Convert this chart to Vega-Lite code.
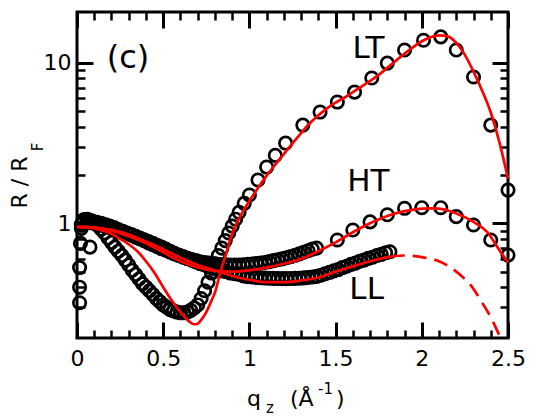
{
"$schema":"https://vega.github.io/schema/vega-lite/v6.json",
"width":431,"height":326,
"autosize":{"type":"none"},
"padding":{"left":77,"top":12,"right":25,"bottom":78},
"background":"white",
"config":{"view":{"stroke":"black","strokeWidth":3},"axis":{"grid":false,"domainColor":"black","tickColor":"black","labelColor":"black","titleColor":"black","labelFont":"DejaVu Sans","titleFont":"DejaVu Sans","labelFlush":false,"labelOverlap":false}},
"datasets":{
"pts":[
{"s":"LT","q":0.015,"r":0.32},{"s":"LT","q":0.02,"r":0.75},{"s":"LT","q":0.03,"r":1.0},{"s":"LT","q":0.04,"r":1.05},{"s":"LT","q":0.06,"r":1.06},{"s":"LT","q":0.08,"r":1.04},{"s":"LT","q":0.10,"r":1.01},{"s":"LT","q":0.12,"r":0.97},{"s":"LT","q":0.14,"r":0.92},{"s":"LT","q":0.16,"r":0.87},{"s":"LT","q":0.18,"r":0.81},{"s":"LT","q":0.20,"r":0.76},{"s":"LT","q":0.22,"r":0.71},{"s":"LT","q":0.24,"r":0.67},{"s":"LT","q":0.26,"r":0.63},{"s":"LT","q":0.28,"r":0.59},{"s":"LT","q":0.30,"r":0.55},{"s":"LT","q":0.32,"r":0.51},{"s":"LT","q":0.34,"r":0.48},{"s":"LT","q":0.36,"r":0.45},{"s":"LT","q":0.38,"r":0.42},{"s":"LT","q":0.40,"r":0.40},{"s":"LT","q":0.42,"r":0.38},{"s":"LT","q":0.44,"r":0.36},{"s":"LT","q":0.46,"r":0.34},{"s":"LT","q":0.48,"r":0.325},{"s":"LT","q":0.50,"r":0.31},{"s":"LT","q":0.52,"r":0.30},{"s":"LT","q":0.54,"r":0.29},{"s":"LT","q":0.56,"r":0.285},{"s":"LT","q":0.58,"r":0.28},{"s":"LT","q":0.60,"r":0.277},{"s":"LT","q":0.62,"r":0.277},{"s":"LT","q":0.64,"r":0.28},{"s":"LT","q":0.66,"r":0.287},{"s":"LT","q":0.68,"r":0.297},{"s":"LT","q":0.70,"r":0.31},{"s":"LT","q":0.72,"r":0.34},{"s":"LT","q":0.74,"r":0.38},{"s":"LT","q":0.76,"r":0.43},{"s":"LT","q":0.78,"r":0.49},{"s":"LT","q":0.80,"r":0.56},{"s":"LT","q":0.82,"r":0.63},{"s":"LT","q":0.84,"r":0.70},{"s":"LT","q":0.86,"r":0.78},{"s":"LT","q":0.88,"r":0.87},{"s":"LT","q":0.90,"r":0.96},{"s":"LT","q":0.92,"r":1.06},{"s":"LT","q":0.94,"r":1.17},{"s":"LT","q":0.97,"r":1.33},{"s":"LT","q":1.00,"r":1.50},{"s":"LT","q":1.05,"r":1.86},{"s":"LT","q":1.10,"r":2.24},{"s":"LT","q":1.15,"r":2.65},{"s":"LT","q":1.21,"r":3.16},{"s":"LT","q":1.31,"r":4.09},{"s":"LT","q":1.41,"r":4.93},{"s":"LT","q":1.51,"r":5.69},{"s":"LT","q":1.61,"r":6.56},{"s":"LT","q":1.71,"r":8.03},{"s":"LT","q":1.80,"r":9.95},{"s":"LT","q":1.90,"r":12.0},{"s":"LT","q":2.01,"r":13.8},{"s":"LT","q":2.11,"r":14.5},{"s":"LT","q":2.20,"r":12.0},{"s":"LT","q":2.30,"r":8.15},{"s":"LT","q":2.40,"r":4.09},{"s":"LT","q":2.50,"r":1.61},
{"s":"HT","q":0.015,"r":0.40},{"s":"HT","q":0.025,"r":0.93},{"s":"HT","q":0.04,"r":1.05},{"s":"HT","q":0.065,"r":1.04},{"s":"HT","q":0.09,"r":1.03},{"s":"HT","q":0.115,"r":1.015},{"s":"HT","q":0.14,"r":1.0},{"s":"HT","q":0.165,"r":0.98},{"s":"HT","q":0.19,"r":0.96},{"s":"HT","q":0.215,"r":0.94},{"s":"HT","q":0.24,"r":0.915},{"s":"HT","q":0.265,"r":0.89},{"s":"HT","q":0.29,"r":0.87},{"s":"HT","q":0.315,"r":0.845},{"s":"HT","q":0.34,"r":0.82},{"s":"HT","q":0.365,"r":0.80},{"s":"HT","q":0.39,"r":0.78},{"s":"HT","q":0.415,"r":0.755},{"s":"HT","q":0.44,"r":0.735},{"s":"HT","q":0.465,"r":0.715},{"s":"HT","q":0.49,"r":0.695},{"s":"HT","q":0.515,"r":0.68},{"s":"HT","q":0.54,"r":0.66},{"s":"HT","q":0.565,"r":0.645},{"s":"HT","q":0.59,"r":0.63},{"s":"HT","q":0.615,"r":0.615},{"s":"HT","q":0.64,"r":0.605},{"s":"HT","q":0.665,"r":0.595},{"s":"HT","q":0.69,"r":0.585},{"s":"HT","q":0.715,"r":0.575},{"s":"HT","q":0.74,"r":0.57},{"s":"HT","q":0.765,"r":0.565},{"s":"HT","q":0.79,"r":0.56},{"s":"HT","q":0.815,"r":0.555},{"s":"HT","q":0.84,"r":0.553},{"s":"HT","q":0.865,"r":0.551},{"s":"HT","q":0.89,"r":0.55},{"s":"HT","q":0.915,"r":0.55},{"s":"HT","q":0.94,"r":0.55},{"s":"HT","q":0.965,"r":0.552},{"s":"HT","q":0.99,"r":0.555},{"s":"HT","q":1.015,"r":0.558},{"s":"HT","q":1.04,"r":0.562},{"s":"HT","q":1.065,"r":0.566},{"s":"HT","q":1.09,"r":0.57},{"s":"HT","q":1.115,"r":0.577},{"s":"HT","q":1.14,"r":0.585},{"s":"HT","q":1.165,"r":0.593},{"s":"HT","q":1.19,"r":0.60},{"s":"HT","q":1.215,"r":0.61},{"s":"HT","q":1.24,"r":0.62},{"s":"HT","q":1.265,"r":0.632},{"s":"HT","q":1.29,"r":0.645},{"s":"HT","q":1.315,"r":0.66},{"s":"HT","q":1.34,"r":0.675},{"s":"HT","q":1.365,"r":0.69},{"s":"HT","q":1.39,"r":0.70},{"s":"HT","q":1.51,"r":0.787},{"s":"HT","q":1.60,"r":0.908},{"s":"HT","q":1.70,"r":1.02},{"s":"HT","q":1.80,"r":1.13},{"s":"HT","q":1.90,"r":1.24},{"s":"HT","q":2.00,"r":1.25},{"s":"HT","q":2.11,"r":1.25},{"s":"HT","q":2.20,"r":1.10},{"s":"HT","q":2.30,"r":0.976},{"s":"HT","q":2.40,"r":0.787},{"s":"HT","q":2.50,"r":0.634},
{"s":"LL","q":0.015,"r":0.53},{"s":"LL","q":0.025,"r":0.98},{"s":"LL","q":0.075,"r":0.71},{"s":"LL","q":0.04,"r":1.03},{"s":"LL","q":0.065,"r":1.02},{"s":"LL","q":0.09,"r":1.005},{"s":"LL","q":0.115,"r":0.99},{"s":"LL","q":0.14,"r":0.975},{"s":"LL","q":0.165,"r":0.955},{"s":"LL","q":0.19,"r":0.94},{"s":"LL","q":0.215,"r":0.92},{"s":"LL","q":0.24,"r":0.90},{"s":"LL","q":0.265,"r":0.885},{"s":"LL","q":0.29,"r":0.865},{"s":"LL","q":0.315,"r":0.85},{"s":"LL","q":0.34,"r":0.83},{"s":"LL","q":0.365,"r":0.81},{"s":"LL","q":0.39,"r":0.79},{"s":"LL","q":0.415,"r":0.77},{"s":"LL","q":0.44,"r":0.75},{"s":"LL","q":0.465,"r":0.73},{"s":"LL","q":0.49,"r":0.71},{"s":"LL","q":0.515,"r":0.69},{"s":"LL","q":0.54,"r":0.67},{"s":"LL","q":0.565,"r":0.65},{"s":"LL","q":0.59,"r":0.635},{"s":"LL","q":0.615,"r":0.62},{"s":"LL","q":0.64,"r":0.605},{"s":"LL","q":0.665,"r":0.59},{"s":"LL","q":0.69,"r":0.575},{"s":"LL","q":0.715,"r":0.56},{"s":"LL","q":0.74,"r":0.55},{"s":"LL","q":0.765,"r":0.535},{"s":"LL","q":0.79,"r":0.525},{"s":"LL","q":0.815,"r":0.515},{"s":"LL","q":0.84,"r":0.505},{"s":"LL","q":0.865,"r":0.50},{"s":"LL","q":0.89,"r":0.49},{"s":"LL","q":0.915,"r":0.485},{"s":"LL","q":0.94,"r":0.48},{"s":"LL","q":0.965,"r":0.47},{"s":"LL","q":0.99,"r":0.465},{"s":"LL","q":1.015,"r":0.463},{"s":"LL","q":1.04,"r":0.46},{"s":"LL","q":1.065,"r":0.458},{"s":"LL","q":1.09,"r":0.456},{"s":"LL","q":1.115,"r":0.455},{"s":"LL","q":1.14,"r":0.454},{"s":"LL","q":1.165,"r":0.453},{"s":"LL","q":1.19,"r":0.452},{"s":"LL","q":1.215,"r":0.452},{"s":"LL","q":1.24,"r":0.453},{"s":"LL","q":1.265,"r":0.454},{"s":"LL","q":1.29,"r":0.455},{"s":"LL","q":1.315,"r":0.457},{"s":"LL","q":1.34,"r":0.46},{"s":"LL","q":1.365,"r":0.463},{"s":"LL","q":1.39,"r":0.467},{"s":"LL","q":1.415,"r":0.475},{"s":"LL","q":1.44,"r":0.485},{"s":"LL","q":1.465,"r":0.495},{"s":"LL","q":1.49,"r":0.505},{"s":"LL","q":1.515,"r":0.515},{"s":"LL","q":1.54,"r":0.53},{"s":"LL","q":1.565,"r":0.54},{"s":"LL","q":1.59,"r":0.555},{"s":"LL","q":1.615,"r":0.565},{"s":"LL","q":1.64,"r":0.58},{"s":"LL","q":1.665,"r":0.59},{"s":"LL","q":1.69,"r":0.605},{"s":"LL","q":1.715,"r":0.615},{"s":"LL","q":1.74,"r":0.63},{"s":"LL","q":1.765,"r":0.64},{"s":"LL","q":1.79,"r":0.655},{"s":"LL","q":1.815,"r":0.665}
],
"fits":[
{"s":"LT","q":0.0,"r":0.95},{"s":"LT","q":0.05,"r":0.95},{"s":"LT","q":0.10,"r":0.93},{"s":"LT","q":0.15,"r":0.90},{"s":"LT","q":0.20,"r":0.86},{"s":"LT","q":0.25,"r":0.80},{"s":"LT","q":0.30,"r":0.74},{"s":"LT","q":0.35,"r":0.67},{"s":"LT","q":0.40,"r":0.58},{"s":"LT","q":0.45,"r":0.49},{"s":"LT","q":0.50,"r":0.40},{"s":"LT","q":0.55,"r":0.33},{"s":"LT","q":0.60,"r":0.28},{"s":"LT","q":0.65,"r":0.245},{"s":"LT","q":0.68,"r":0.235},{"s":"LT","q":0.70,"r":0.237},{"s":"LT","q":0.72,"r":0.25},{"s":"LT","q":0.75,"r":0.28},{"s":"LT","q":0.78,"r":0.33},{"s":"LT","q":0.80,"r":0.37},{"s":"LT","q":0.83,"r":0.49},{"s":"LT","q":0.86,"r":0.62},{"s":"LT","q":0.90,"r":0.86},{"s":"LT","q":0.95,"r":1.12},{"s":"LT","q":1.00,"r":1.38},{"s":"LT","q":1.05,"r":1.66},{"s":"LT","q":1.10,"r":1.98},{"s":"LT","q":1.15,"r":2.32},{"s":"LT","q":1.20,"r":2.70},{"s":"LT","q":1.25,"r":3.15},{"s":"LT","q":1.30,"r":3.65},{"s":"LT","q":1.35,"r":4.2},{"s":"LT","q":1.40,"r":4.7},{"s":"LT","q":1.45,"r":5.2},{"s":"LT","q":1.50,"r":5.65},{"s":"LT","q":1.55,"r":6.05},{"s":"LT","q":1.60,"r":6.55},{"s":"LT","q":1.65,"r":7.1},{"s":"LT","q":1.70,"r":7.7},{"s":"LT","q":1.75,"r":8.4},{"s":"LT","q":1.80,"r":9.3},{"s":"LT","q":1.85,"r":10.3},{"s":"LT","q":1.90,"r":11.4},{"s":"LT","q":1.95,"r":12.5},{"s":"LT","q":2.00,"r":13.6},{"s":"LT","q":2.05,"r":14.4},{"s":"LT","q":2.10,"r":14.8},{"s":"LT","q":2.15,"r":14.6},{"s":"LT","q":2.20,"r":13.3},{"s":"LT","q":2.25,"r":11.2},{"s":"LT","q":2.30,"r":8.8},{"s":"LT","q":2.35,"r":6.7},{"s":"LT","q":2.40,"r":4.9},{"s":"LT","q":2.45,"r":3.2},{"s":"LT","q":2.50,"r":1.9},
{"s":"HT","q":0.0,"r":0.95},{"s":"HT","q":0.1,"r":0.94},{"s":"HT","q":0.2,"r":0.90},{"s":"HT","q":0.3,"r":0.83},{"s":"HT","q":0.4,"r":0.75},{"s":"HT","q":0.5,"r":0.66},{"s":"HT","q":0.6,"r":0.58},{"s":"HT","q":0.7,"r":0.53},{"s":"HT","q":0.8,"r":0.505},{"s":"HT","q":0.9,"r":0.50},{"s":"HT","q":1.0,"r":0.51},{"s":"HT","q":1.1,"r":0.53},{"s":"HT","q":1.2,"r":0.56},{"s":"HT","q":1.3,"r":0.60},{"s":"HT","q":1.4,"r":0.67},{"s":"HT","q":1.5,"r":0.76},{"s":"HT","q":1.6,"r":0.88},{"s":"HT","q":1.7,"r":1.0},{"s":"HT","q":1.8,"r":1.11},{"s":"HT","q":1.9,"r":1.19},{"s":"HT","q":2.0,"r":1.235},{"s":"HT","q":2.05,"r":1.24},{"s":"HT","q":2.1,"r":1.235},{"s":"HT","q":2.2,"r":1.15},{"s":"HT","q":2.3,"r":1.02},{"s":"HT","q":2.38,"r":0.88},{"s":"HT","q":2.45,"r":0.68},{"s":"HT","q":2.5,"r":0.57},
{"s":"LL","q":0.0,"r":0.95},{"s":"LL","q":0.1,"r":0.94},{"s":"LL","q":0.2,"r":0.91},{"s":"LL","q":0.3,"r":0.85},{"s":"LL","q":0.4,"r":0.77},{"s":"LL","q":0.5,"r":0.69},{"s":"LL","q":0.6,"r":0.61},{"s":"LL","q":0.7,"r":0.55},{"s":"LL","q":0.8,"r":0.51},{"s":"LL","q":0.9,"r":0.47},{"s":"LL","q":1.0,"r":0.445},{"s":"LL","q":1.1,"r":0.43},{"s":"LL","q":1.2,"r":0.43},{"s":"LL","q":1.3,"r":0.44},{"s":"LL","q":1.4,"r":0.46},{"s":"LL","q":1.5,"r":0.50},{"s":"LL","q":1.6,"r":0.54},{"s":"LL","q":1.7,"r":0.58},{"s":"LL","q":1.82,"r":0.62}
],
"ext":[
{"s":"LL","q":1.82,"r":0.62},{"s":"LL","q":1.9,"r":0.63},{"s":"LL","q":2.0,"r":0.615},{"s":"LL","q":2.1,"r":0.58},{"s":"LL","q":2.2,"r":0.50},{"s":"LL","q":2.3,"r":0.39},{"s":"LL","q":2.35,"r":0.32},{"s":"LL","q":2.4,"r":0.26},{"s":"LL","q":2.45,"r":0.20}
],
"labs":[
{"q":1.69,"r":12.2,"label":"LT"},{"q":1.69,"r":1.81,"label":"HT"},{"q":1.68,"r":0.384,"label":"LL"}
],
"panel":[{"q":0.296,"r":10.7,"label":"(c)"}],
"xtitle":[{"q":0.986,"r":0.0728,"label":"q"},{"q":1.2355,"r":0.0728,"label":"(Å"},{"q":1.502,"r":0.0728,"label":")"}],
"xtitle_small":[{"q":1.096,"r":0.0659,"label":"z"},{"q":1.398,"r":0.0865,"label":"-1"}],
"ytitle":[{"q":-0.29,"r":1.795,"label":"R / R"}],
"ytitle_small":[{"q":-0.197,"r":2.987,"label":"F"}]
},
"layer":[
{"data":{"name":"pts"},
 "mark":{"type":"point","shape":"circle","filled":false,"size":154,"stroke":"black","strokeWidth":2.7,"opacity":1},
 "encoding":{
  "x":{"field":"q","type":"quantitative","scale":{"domain":[0,2.5],"nice":false,"zero":false},
   "axis":{"orient":"bottom","values":[0,0.5,1,1.5,2,2.5],"format":"~g","labelFontSize":22,"labelPadding":26,"ticks":true,"tickSize":-16,"tickWidth":3,"domain":false,"title":null}},
  "y":{"field":"r","type":"quantitative","scale":{"type":"log","domain":[0.193,20.7],"nice":false},
   "axis":{"orient":"left","values":[1,10],"format":"d","labelFontSize":22,"labelPadding":22,"ticks":true,"tickSize":-16,"tickWidth":3,"domain":false,"title":null}}
 }},
{"data":{"name":"fits"},
 "mark":{"type":"line","color":"#ff0000","strokeWidth":2.7,"interpolate":"monotone"},
 "encoding":{
  "x":{"field":"q","type":"quantitative","scale":{"domain":[0,2.5],"nice":false,"zero":false},
   "axis":{"orient":"bottom","values":[0.1,0.2,0.3,0.4,0.6,0.7,0.8,0.9,1.1,1.2,1.3,1.4,1.6,1.7,1.8,1.9,2.1,2.2,2.3,2.4],"labels":false,"ticks":true,"tickSize":-8,"tickWidth":2.5,"domain":false,"title":null}},
  "y":{"field":"r","type":"quantitative","scale":{"type":"log","domain":[0.193,20.7],"nice":false},
   "axis":{"orient":"left","values":[0.3,0.4,0.5,0.6,0.7,0.8,0.9,2,3,4,5,6,7,8,9],"labels":false,"ticks":true,"tickSize":-8,"tickWidth":2.5,"domain":false,"title":null}},
  "detail":{"field":"s"}
 }},
{"data":{"name":"ext"},
 "mark":{"type":"line","color":"#ff0000","strokeWidth":2.7,"strokeDash":[14,8],"interpolate":"monotone"},
 "encoding":{
  "x":{"field":"q","type":"quantitative","scale":{"domain":[0,2.5],"nice":false,"zero":false},
   "axis":{"orient":"top","values":[0,0.5,1,1.5,2,2.5],"labels":false,"ticks":true,"tickSize":-16,"tickWidth":3,"domain":false,"title":null}},
  "y":{"field":"r","type":"quantitative","scale":{"type":"log","domain":[0.193,20.7],"nice":false},
   "axis":{"orient":"right","values":[1,10],"labels":false,"ticks":true,"tickSize":-16,"tickWidth":3,"domain":false,"title":null}}
 }},
{"data":{"name":"labs"},
 "mark":{"type":"text","font":"DejaVu Sans","fontSize":31,"align":"center","baseline":"middle","color":"black"},
 "encoding":{
  "x":{"field":"q","type":"quantitative","scale":{"domain":[0,2.5],"nice":false,"zero":false},
   "axis":{"orient":"top","values":[0.1,0.2,0.3,0.4,0.6,0.7,0.8,0.9,1.1,1.2,1.3,1.4,1.6,1.7,1.8,1.9,2.1,2.2,2.3,2.4],"labels":false,"ticks":true,"tickSize":-8,"tickWidth":2.5,"domain":false,"title":null}},
  "y":{"field":"r","type":"quantitative","scale":{"type":"log","domain":[0.193,20.7],"nice":false},
   "axis":{"orient":"right","values":[0.3,0.4,0.5,0.6,0.7,0.8,0.9,2,3,4,5,6,7,8,9],"labels":false,"ticks":true,"tickSize":-8,"tickWidth":2.5,"domain":false,"title":null}},
  "text":{"field":"label"}
 }},
{"data":{"name":"panel"},
 "mark":{"type":"text","font":"DejaVu Sans","fontSize":32,"align":"center","baseline":"middle","color":"black"},
 "encoding":{
  "x":{"field":"q","type":"quantitative","scale":{"domain":[0,2.5],"nice":false,"zero":false},"axis":null},
  "y":{"field":"r","type":"quantitative","scale":{"type":"log","domain":[0.193,20.7],"nice":false},"axis":null},
  "text":{"field":"label"}
 }},
{"data":{"name":"xtitle"},
 "mark":{"type":"text","font":"DejaVu Sans","fontSize":22,"align":"left","baseline":"alphabetic","color":"black"},
 "encoding":{
  "x":{"field":"q","type":"quantitative","scale":{"domain":[0,2.5],"nice":false,"zero":false},"axis":null},
  "y":{"field":"r","type":"quantitative","scale":{"type":"log","domain":[0.193,20.7],"nice":false},"axis":null},
  "text":{"field":"label"}
 }},
{"data":{"name":"xtitle_small"},
 "mark":{"type":"text","font":"DejaVu Sans","fontSize":15,"align":"left","baseline":"alphabetic","color":"black"},
 "encoding":{
  "x":{"field":"q","type":"quantitative","scale":{"domain":[0,2.5],"nice":false,"zero":false},"axis":null},
  "y":{"field":"r","type":"quantitative","scale":{"type":"log","domain":[0.193,20.7],"nice":false},"axis":null},
  "text":{"field":"label"}
 }},
{"data":{"name":"ytitle"},
 "mark":{"type":"text","font":"DejaVu Sans","fontSize":22,"align":"center","baseline":"alphabetic","angle":270,"color":"black"},
 "encoding":{
  "x":{"field":"q","type":"quantitative","scale":{"domain":[0,2.5],"nice":false,"zero":false},"axis":null},
  "y":{"field":"r","type":"quantitative","scale":{"type":"log","domain":[0.193,20.7],"nice":false},"axis":null},
  "text":{"field":"label"}
 }},
{"data":{"name":"ytitle_small"},
 "mark":{"type":"text","font":"DejaVu Sans","fontSize":15,"align":"center","baseline":"alphabetic","angle":270,"color":"black"},
 "encoding":{
  "x":{"field":"q","type":"quantitative","scale":{"domain":[0,2.5],"nice":false,"zero":false},"axis":null},
  "y":{"field":"r","type":"quantitative","scale":{"type":"log","domain":[0.193,20.7],"nice":false},"axis":null},
  "text":{"field":"label"}
 }}
],
"resolve":{"axis":{"x":"independent","y":"independent"}}
}
